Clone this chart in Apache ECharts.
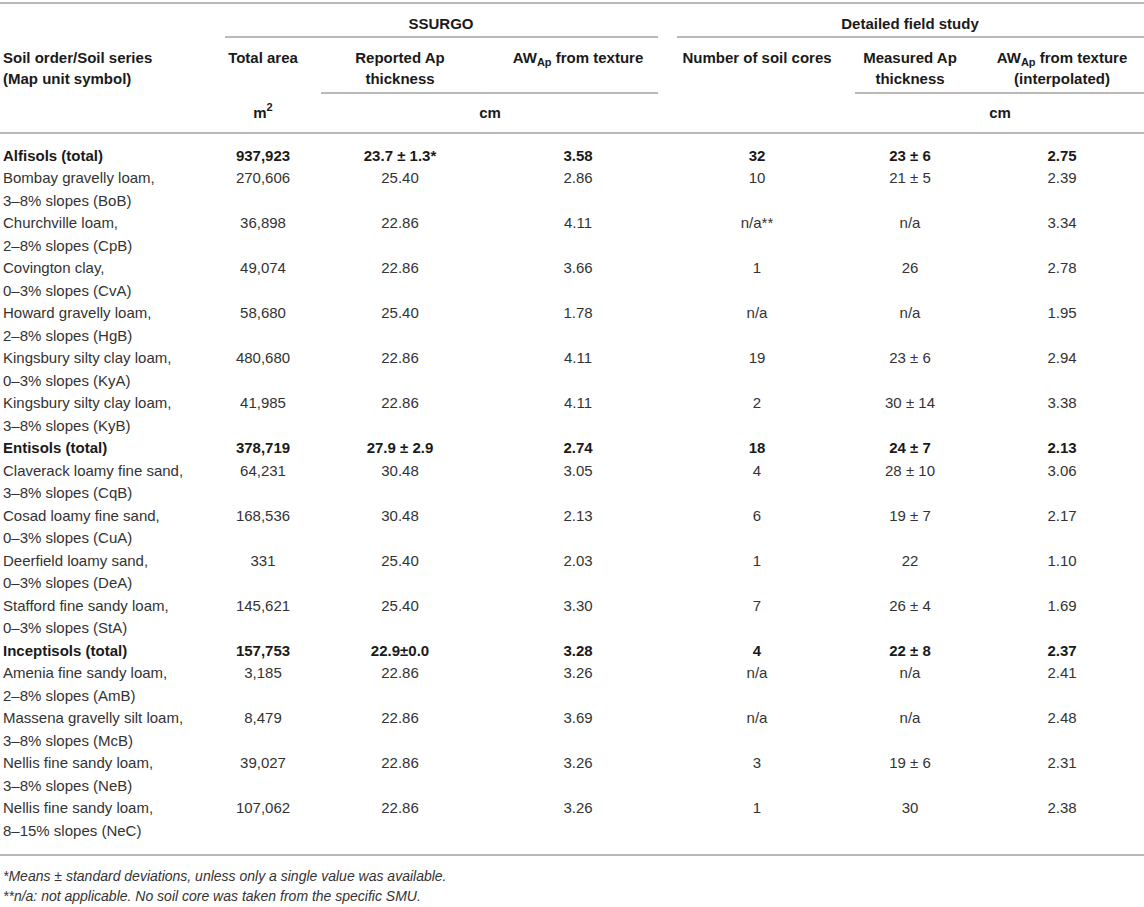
<!DOCTYPE html>
<html>
<head>
<meta charset="utf-8">
<script src="https://cdn.jsdelivr.net/npm/echarts@6/dist/echarts.min.js"></script>
<style>
html,body{margin:0;padding:0;background:#ffffff;}
#chart{width:1144px;height:907px;}
</style>
</head>
<body>
<div id="chart"></div>
<script>
// ---------------- DATA ----------------
const groupHeaders = ['SSURGO', 'Detailed field study'];
const columnHeaders = [
  'Soil order/Soil series\n(Map unit symbol)',
  'Total area',
  'Reported Ap\nthickness',
  'AW_Ap from texture',
  'Number of soil cores',
  'Measured Ap\nthickness',
  'AW_Ap from texture\n(interpolated)'
];
const unitLabels = ['m^2', 'cm', 'cm'];

const soilSeries = [
  'Alfisols (total)',
  'Bombay gravelly loam,\n3–8% slopes (BoB)',
  'Churchville loam,\n2–8% slopes (CpB)',
  'Covington clay,\n0–3% slopes (CvA)',
  'Howard gravelly loam,\n2–8% slopes (HgB)',
  'Kingsbury silty clay loam,\n0–3% slopes (KyA)',
  'Kingsbury silty clay loam,\n3–8% slopes (KyB)',
  'Entisols (total)',
  'Claverack loamy fine sand,\n3–8% slopes (CqB)',
  'Cosad loamy fine sand,\n0–3% slopes (CuA)',
  'Deerfield loamy sand,\n0–3% slopes (DeA)',
  'Stafford fine sandy loam,\n0–3% slopes (StA)',
  'Inceptisols (total)',
  'Amenia fine sandy loam,\n2–8% slopes (AmB)',
  'Massena gravelly silt loam,\n3–8% slopes (McB)',
  'Nellis fine sandy loam,\n3–8% slopes (NeB)',
  'Nellis fine sandy loam,\n8–15% slopes (NeC)'
];
const isTotal = [true,false,false,false,false,false,false,true,false,false,false,false,true,false,false,false,false];
const totalArea = ['937,923','270,606','36,898','49,074','58,680','480,680','41,985','378,719','64,231','168,536','331','145,621','157,753','3,185','8,479','39,027','107,062'];
const reportedAp = ['23.7 ± 1.3*','25.40','22.86','22.86','25.40','22.86','22.86','27.9 ± 2.9','30.48','30.48','25.40','25.40','22.9±0.0','22.86','22.86','22.86','22.86'];
const awTexture = ['3.58','2.86','4.11','3.66','1.78','4.11','4.11','2.74','3.05','2.13','2.03','3.30','3.28','3.26','3.69','3.26','3.26'];
const soilCores = ['32','10','n/a**','1','n/a','19','2','18','4','6','1','7','4','n/a','n/a','3','1'];
const measuredAp = ['23 ± 6','21 ± 5','n/a','26','n/a','23 ± 6','30 ± 14','24 ± 7','28 ± 10','19 ± 7','22','26 ± 4','22 ± 8','n/a','n/a','19 ± 6','30'];
const awInterpolated = ['2.75','2.39','3.34','2.78','1.95','2.94','3.38','2.13','3.06','2.17','1.10','1.69','2.37','2.41','2.48','2.31','2.38'];

const footnotes = [
  '*Means ± standard deviations, unless only a single value was available.',
  '**n/a: not applicable. No soil core was taken from the specific SMU.'
];

// ---------------- LAYOUT ----------------
const W = 1144, H = 907;
const FONT = '"Liberation Sans", Arial, Helvetica, sans-serif';
const FS = 15;
const HEAD_COLOR = '#1a1a1a';
const TEXT_COLOR = '#333333';
const RULE_COLOR = '#b9b9b9';
const COL_X = [3, 263, 400, 578, 757, 910, 1062];
const GROUP_X = [441, 910];
const UNIT_X = [263, 490, 1000];
const Y_GROUP = 23, Y_HEAD = 57, Y_UNIT = 112, HEAD_LH = 21;
const BODY_TOP = 144, LINE_H = 22.5;
const RULES = [[0, W, 3], [225, 658, 37], [677, W, 37], [321, 658, 93], [855, W, 93], [0, W, 133], [0, W, 855]];
const FOOT_Y = [876, 896];

// ---------------- BUILD ----------------
const columns = [soilSeries, totalArea, reportedAp, awTexture, soilCores, measuredAp, awInterpolated];
const bodyCells = [];
let line = 0;
soilSeries.forEach((name, r) => {
  columns.forEach((col, c) => {
    bodyCells.push({ col: c, line: line, text: col[r], bold: isTotal[r] });
  });
  line += isTotal[r] ? 1 : 2;
});
const lineCount = line;
const lineCats = Array.from({ length: lineCount }, (_, i) => String(i));

function richify(t) {
  return t.replace('AW_Ap', 'AW{s|Ap}').replace('^2', '{sup|2}');
}
const richStyles = {
  s: { fontSize: 11, lineHeight: 11, verticalAlign: 'bottom', fontWeight: 'bold', fontFamily: FONT, fill: HEAD_COLOR },
  sup: { fontSize: 11, lineHeight: 11, verticalAlign: 'top', fontWeight: 'bold', fontFamily: FONT, fill: HEAD_COLOR }
};

const headCells = [];
groupHeaders.forEach((t, i) => headCells.push({ x: GROUP_X[i], y: Y_GROUP, text: t, align: 'center', weight: 'bold' }));
columnHeaders.forEach((t, i) => headCells.push({ x: COL_X[i], y: Y_HEAD, text: t, align: i === 0 ? 'left' : 'center', weight: 'bold', top: true }));
unitLabels.forEach((t, i) => headCells.push({ x: UNIT_X[i], y: Y_UNIT, text: t, align: 'center', weight: 'bold' }));
footnotes.forEach((t, i) => headCells.push({ x: 3, y: FOOT_Y[i], text: t, align: 'left', weight: 'normal', italic: true, size: 14, color: TEXT_COLOR }));

const chart = echarts.init(document.getElementById('chart'), null, { renderer: 'svg', width: W, height: H });

chart.setOption({
  animation: false,
  backgroundColor: '#ffffff',
  grid: [
    { left: 0, right: 0, top: 0, bottom: 0 },
    { left: 0, right: 0, top: BODY_TOP, height: lineCount * LINE_H }
  ],
  xAxis: [
    { gridIndex: 0, type: 'value', min: 0, max: W, show: false },
    { gridIndex: 1, type: 'value', min: 0, max: W, show: false }
  ],
  yAxis: [
    { gridIndex: 0, type: 'value', min: 0, max: H, inverse: true, show: false },
    { gridIndex: 1, type: 'category', data: lineCats, inverse: true, show: false }
  ],
  series: [
    {
      type: 'custom', name: 'rules', xAxisIndex: 0, yAxisIndex: 0, silent: true, clip: false,
      data: RULES.map(r => [r[0], r[2], r[1]]),
      renderItem(params, api) {
        const a = api.coord([api.value(0), api.value(1)]);
        const b = api.coord([api.value(2), api.value(1)]);
        return { type: 'line', shape: { x1: a[0], y1: a[1], x2: b[0], y2: b[1] }, style: { stroke: RULE_COLOR, lineWidth: 1.8 } };
      }
    },
    {
      type: 'custom', name: 'header', xAxisIndex: 0, yAxisIndex: 0, silent: true, clip: false,
      data: headCells.map(h => [h.x, h.y]),
      renderItem(params, api) {
        const h = headCells[params.dataIndex];
        const p = api.coord([api.value(0), api.value(1)]);
        const multi = h.text.indexOf('\n') >= 0 || h.top;
        return {
          type: 'text', x: p[0], y: multi ? p[1] - HEAD_LH / 2 : p[1],
          style: {
            text: richify(h.text), rich: richStyles,
            fill: h.color || HEAD_COLOR, fontSize: h.size || FS, fontFamily: FONT,
            fontWeight: h.weight, fontStyle: h.italic ? 'italic' : 'normal',
            align: h.align, verticalAlign: multi ? 'top' : 'middle', lineHeight: HEAD_LH
          }
        };
      }
    },
    {
      type: 'custom', name: 'body', xAxisIndex: 1, yAxisIndex: 1, silent: true, clip: false,
      data: bodyCells.map(c => [COL_X[c.col], c.line]),
      renderItem(params, api) {
        const c = bodyCells[params.dataIndex];
        const p = api.coord([api.value(0), api.value(1)]);
        const band = api.size([0, 1])[1];
        const multi = c.text.indexOf('\n') >= 0;
        return {
          type: 'text', x: p[0], y: multi ? p[1] - band / 2 : p[1],
          style: {
            text: c.text, fill: c.bold ? HEAD_COLOR : TEXT_COLOR, fontSize: FS, fontFamily: FONT,
            fontWeight: c.bold ? 'bold' : 'normal',
            align: c.col === 0 ? 'left' : 'center', verticalAlign: multi ? 'top' : 'middle', lineHeight: band
          }
        };
      }
    }
  ]
});
</script>
</body>
</html>
